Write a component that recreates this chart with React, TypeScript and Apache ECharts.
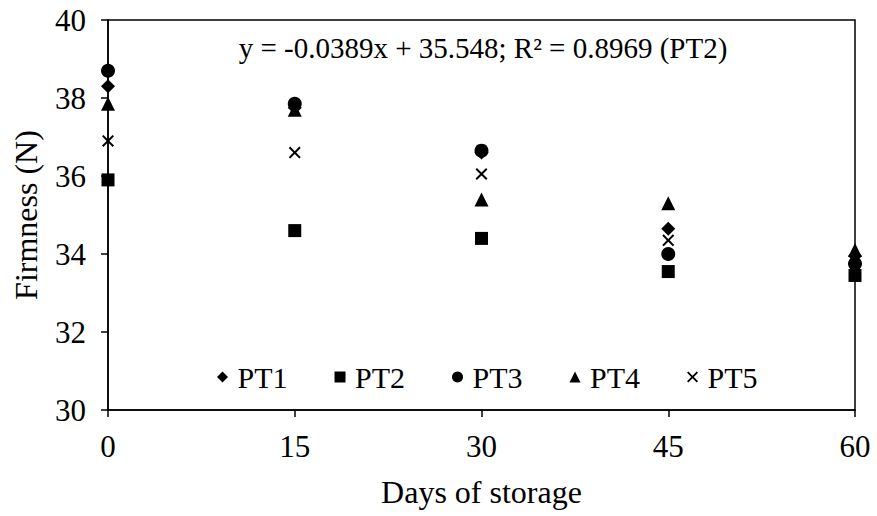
import React, { useEffect, useRef } from "react";
import * as echarts from "echarts";

const days = [0, 15, 30, 45, 60];
const pt1 = [38.3, 37.75, 36.6, 34.65, 33.95];
const pt2 = [35.9, 34.6, 34.4, 33.55, 33.45];
const pt3 = [38.7, 37.85, 36.65, 34.0, 33.75];
const pt4 = [37.85, 37.7, 35.4, 35.3, 34.1];
const pt5 = [36.9, 36.6, 36.05, 34.35, 33.85];
const yTicks = { min: 30, max: 40, interval: 2 };
const xTicks = { min: 0, max: 60, interval: 15 };
const annotation = "y = -0.0389x + 35.548; R\u00B2 = 0.8969 (PT2)";

const FONT = "'Liberation Serif', 'Times New Roman', serif";
const CROSS =
  "path://M0,1.2 L1.2,0 L5,3.8 L8.8,0 L10,1.2 L6.2,5 L10,8.8 L8.8,10 L5,6.2 L1.2,10 L0,8.8 L3.8,5 Z";
const DIAMOND = "path://M5,0 L10,5 L5,10 L0,5 Z";
const SQUARE = "path://M0,0 L10,0 L10,10 L0,10 Z";
const TRIANGLE = "path://M5,0 L10,10 L0,10 Z";

const seriesDefs = [
  { name: "PT1", data: pt1, symbol: "diamond", icon: DIAMOND, size: 14 },
  { name: "PT2", data: pt2, symbol: "rect", icon: SQUARE, size: 13 },
  { name: "PT3", data: pt3, symbol: "circle", icon: "circle", size: 14 },
  { name: "PT4", data: pt4, symbol: "triangle", icon: TRIANGLE, size: 14 },
  { name: "PT5", data: pt5, symbol: CROSS, icon: CROSS, size: 12 },
];

export default function App() {
  const ref = useRef<HTMLDivElement>(null);
  useEffect(() => {
    document.body.style.margin = "0";
    const chart = echarts.init(ref.current!, null, { renderer: "svg" });
    chart.setOption({
      animation: false,
      backgroundColor: "#fff",
      textStyle: { fontFamily: FONT, color: "#000" },
      grid: {
        left: 108,
        right: 22,
        top: 20,
        bottom: 106,
        show: true,
        borderColor: "#000",
        borderWidth: 1.5,
      },
      legend: {
        left: 212,
        top: 357,
        itemWidth: 20,
        itemHeight: 11,
        itemGap: 47,
        symbolKeepAspect: true,
        textStyle: { fontFamily: FONT, fontSize: 30, color: "#000" },
        data: seriesDefs.map((s) => ({ name: s.name, icon: s.icon })),
      },
      xAxis: {
        type: "value",
        min: xTicks.min,
        max: xTicks.max,
        interval: xTicks.interval,
        name: "Days of storage",
        nameLocation: "middle",
        nameGap: 66,
        nameTextStyle: { fontFamily: FONT, fontSize: 32, color: "#000" },
        axisLine: { lineStyle: { color: "#000", width: 1.5 } },
        axisTick: { show: true, length: 7, lineStyle: { color: "#000", width: 1.5 } },
        axisLabel: { fontFamily: FONT, fontSize: 31, color: "#000", margin: 21 },
        splitLine: { show: false },
      },
      yAxis: {
        type: "value",
        min: yTicks.min,
        max: yTicks.max,
        interval: yTicks.interval,
        name: "Firmness (N)",
        nameLocation: "middle",
        nameGap: 66,
        nameTextStyle: { fontFamily: FONT, fontSize: 32, color: "#000" },
        axisLine: { lineStyle: { color: "#000", width: 1.5 } },
        axisTick: { show: true, length: 7, lineStyle: { color: "#000", width: 1.5 } },
        axisLabel: { fontFamily: FONT, fontSize: 31, color: "#000", margin: 22 },
        splitLine: { show: false },
      },
      graphic: [
        {
          type: "text",
          x: 483,
          y: 48,
          style: {
            text: annotation,
            textAlign: "center",
            textVerticalAlign: "middle",
            fontFamily: FONT,
            fontSize: 29,
            fill: "#000",
          },
        },
      ],
      series: seriesDefs.map((s) => ({
        name: s.name,
        type: "scatter",
        symbol: s.symbol,
        symbolSize: s.size,
        itemStyle: { color: "#000", opacity: 1 },
        data: days.map((d, i) => [d, s.data[i]]),
      })),
    });
    return () => chart.dispose();
  }, []);
  return (
    <div
      ref={ref}
      style={{ position: "absolute", left: 0, top: 0, width: 877, height: 516 }}
    />
  );
}
